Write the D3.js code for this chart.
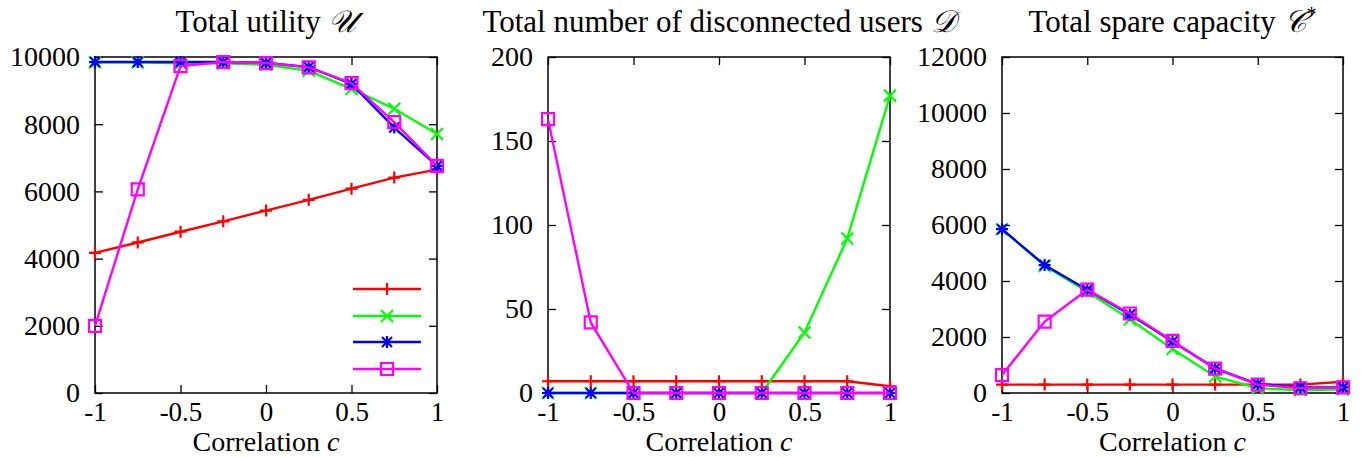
<!DOCTYPE html>
<html>
<head>
<meta charset="utf-8">
<script src="https://cdn.jsdelivr.net/npm/d3@7"></script>
<style>
  body { margin: 0; background: #fff; }
  svg { display: block; }
</style>
</head>
<body>
<div id="chart-area"></div>
<script>
// correlation values on the x axis
const corr = [-1, -0.75, -0.5, -0.25, 0, 0.25, 0.5, 0.75, 1];
const xTicks = [-1, -0.5, 0, 0.5, 1];

// Total utility U
const utilRed = [4170, 4480, 4800, 5110, 5430, 5750, 6080, 6410, 6650];
const utilGreen = [9840, 9840, 9810, 9810, 9770, 9590, 9050, 8460, 7710];
const utilBlue = [9850, 9850, 9850, 9850, 9830, 9700, 9200, 7900, 6760];
const utilMagenta = [2000, 6060, 9730, 9850, 9820, 9690, 9220, 8060, 6760];
const utilTicks = [0, 2000, 4000, 6000, 8000, 10000];

// Total number of disconnected users D
const discRed = [7, 7, 7, 7, 7, 7, 7, 7, 4];
const discGreen = [0, 0, 0, 0, 0, 0, 36, 92, 177];
const discBlue = [0, 0, 0, 0, 0, 0, 0, 0, 0];
const discMagenta = [163, 42, 0, 0, 0, 0, 0, 0, 0];
const discTicks = [0, 50, 100, 150, 200];

// Total spare capacity C*
const spareRed = [300, 300, 300, 300, 300, 300, 300, 300, 400];
const spareGreen = [5850, 4540, 3620, 2630, 1570, 590, 170, 100, 130];
const spareBlue = [5850, 4570, 3690, 2800, 1840, 880, 320, 210, 200];
const spareMagenta = [640, 2550, 3690, 2840, 1860, 870, 300, 170, 200];
const spareTicks = [0, 2000, 4000, 6000, 8000, 10000, 12000];

const titles = ["Total utility ", "Total number of disconnected users ", "Total spare capacity "];
const titleSymbols = ["𝒰", "𝒟", "𝒞"];
const titleSups = ["", "", "*"];

const colors = ["#ff0000", "#00ff00", "#0000ff", "#ff00ff"],
  markers = ["plus", "cross", "star", "square"],
  font = "'Liberation Serif', serif";

const width = 1364, height = 457;
const plotTop = 57, plotBottom = 393;

const panels = [
  { left: 95, right: 437, max: 10000, ticks: utilTicks, series: [utilRed, utilGreen, utilBlue, utilMagenta], legend: true },
  { left: 548, right: 890, max: 200, ticks: discTicks, series: [discRed, discGreen, discBlue, discMagenta] },
  { left: 1002, right: 1343, max: 12000, ticks: spareTicks, series: [spareRed, spareGreen, spareBlue, spareMagenta] }
];

const svg = d3
  .select("#chart-area")
  .append("svg")
  .attr("width", width)
  .attr("height", height)
  .attr("font-family", font);

function marker(sel, type, color) {
  const s = 6;
  let d;
  if (type === "plus") d = `M${-s},0H${s}M0,${-s}V${s}`;
  else if (type === "cross") d = `M${-s},${-s}L${s},${s}M${-s},${s}L${s},${-s}`;
  else if (type === "star") d = `M${-s},0H${s}M0,${-s}V${s}M${-s + 1},${-s + 1}L${s - 1},${s - 1}M${-s + 1},${s - 1}L${s - 1},${-s + 1}`;
  else d = `M${-s},${-s}H${s}V${s}H${-s}Z`;
  sel.append("path")
    .attr("d", d)
    .attr("fill", "none")
    .attr("stroke", color)
    .attr("stroke-width", 2.2);
}

panels.forEach((p, i) => {
  const x = d3.scaleLinear().domain([-1, 1]).range([p.left, p.right]);
  const y = d3.scaleLinear().domain([0, p.max]).range([plotBottom, plotTop]);
  const g = svg.append("g");

  // axes with inward ticks on all sides
  const styleAxis = (a, size) => {
    a.select(".domain").remove();
    a.attr("font-family", font).attr("font-size", size || 28);
    a.selectAll("line").attr("stroke", "#000").attr("stroke-width", 1.3);
    a.selectAll("text").attr("fill", "#000");
  };
  g.append("g")
    .attr("transform", `translate(0,${plotBottom})`)
    .call(d3.axisBottom(x).tickValues(xTicks).tickSizeInner(-8).tickSizeOuter(0).tickPadding(9).tickFormat(d => String(d)))
    .call(styleAxis, 27);
  g.append("g")
    .attr("transform", `translate(0,${plotTop})`)
    .call(d3.axisTop(x).tickValues(xTicks).tickSizeInner(-8).tickSizeOuter(0).tickFormat(""))
    .call(styleAxis);
  g.append("g")
    .attr("transform", `translate(${p.left},0)`)
    .call(d3.axisLeft(y).tickValues(p.ticks).tickSizeInner(-8).tickSizeOuter(0).tickPadding(15).tickFormat(d => String(d)))
    .call(styleAxis);
  g.append("g")
    .attr("transform", `translate(${p.right},0)`)
    .call(d3.axisRight(y).tickValues(p.ticks).tickSizeInner(-8).tickSizeOuter(0).tickFormat(""))
    .call(styleAxis);

  // frame
  g.append("rect")
    .attr("x", p.left)
    .attr("y", plotTop)
    .attr("width", p.right - p.left)
    .attr("height", plotBottom - plotTop)
    .attr("fill", "none")
    .attr("stroke", "#000")
    .attr("stroke-width", 1.5);

  // series
  const line = d3.line().x((d, j) => x(corr[j])).y(d => y(d));
  p.series.forEach((vals, k) => {
    g.append("path")
      .datum(vals)
      .attr("d", line)
      .attr("fill", "none")
      .attr("stroke", colors[k])
      .attr("stroke-width", 2.4);
    vals.forEach((v, j) => {
      g.append("g")
        .attr("transform", `translate(${x(corr[j])},${y(v)})`)
        .call(marker, markers[k], colors[k]);
    });
  });

  // title
  const t = svg.append("text")
    .attr("x", (p.left + p.right) / 2)
    .attr("y", 32)
    .attr("text-anchor", "middle")
    .attr("font-size", 31)
    .text(titles[i]);
  t.append("tspan").attr("font-style", "italic").text(titleSymbols[i]);
  if (titleSups[i]) t.append("tspan").attr("font-size", 20).attr("dy", -11).text(titleSups[i]);

  // x label
  const xl = svg.append("text")
    .attr("x", (p.left + p.right) / 2)
    .attr("y", 451)
    .attr("text-anchor", "middle")
    .attr("font-size", 28)
    .text("Correlation ");
  xl.append("tspan").attr("font-style", "italic").text("c");

  // legend (sample lines only, no labels)
  if (p.legend) {
    const ly = [289, 316, 342, 369];
    colors.forEach((c, k) => {
      g.append("line")
        .attr("x1", 353).attr("x2", 421)
        .attr("y1", ly[k]).attr("y2", ly[k])
        .attr("stroke", c)
        .attr("stroke-width", 2.4);
      g.append("g")
        .attr("transform", `translate(387,${ly[k]})`)
        .call(marker, markers[k], c);
    });
  }
});
</script>
</body>
</html>
